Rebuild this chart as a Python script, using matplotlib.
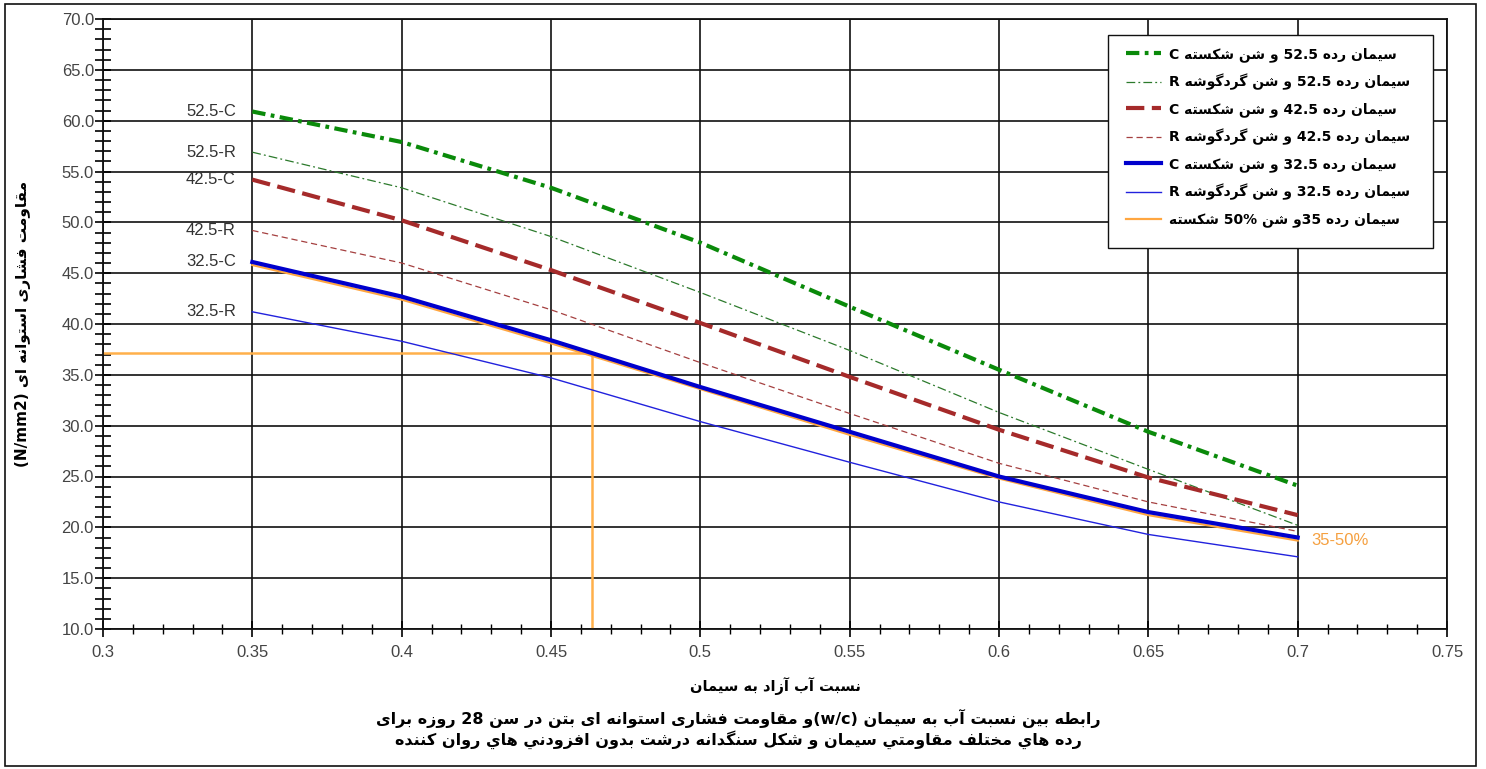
import re
import matplotlib
matplotlib.use("Agg")
import matplotlib.pyplot as plt
from matplotlib.ticker import MultipleLocator, FormatStrFormatter, FuncFormatter
from matplotlib.patches import Rectangle

# ---- data ----
wc = [0.35, 0.40, 0.45, 0.50, 0.55, 0.60, 0.65, 0.70]
s525_c = [60.9, 57.9, 53.4, 48.0, 41.7, 35.5, 29.4, 24.1]
s525_r = [56.9, 53.4, 48.6, 43.1, 37.4, 31.3, 25.7, 20.2]
s425_c = [54.2, 50.2, 45.3, 40.1, 34.8, 29.6, 24.9, 21.2]
s425_r = [49.2, 46.0, 41.4, 36.2, 31.2, 26.3, 22.5, 19.6]
s325_c = [46.1, 42.7, 38.4, 33.8, 29.4, 25.0, 21.5, 19.0]
s325_r = [41.2, 38.3, 34.7, 30.4, 26.4, 22.5, 19.3, 17.1]
s35_50 = [45.8, 42.4, 38.1, 33.6, 29.1, 24.8, 21.2, 18.7]

curve_tags = ["52.5-C", "52.5-R", "42.5-C", "42.5-R", "32.5-C", "32.5-R"]
legend_txt = [
    "سیمان رده 52.5 و شن شکسته C",
    "سیمان رده 52.5 و شن گردگوشه R",
    "سیمان رده 42.5 و شن شکسته C",
    "سیمان رده 42.5 و شن گردگوشه R",
    "سیمان رده 32.5 و شن شکسته C",
    "سیمان رده 32.5 و شن گردگوشه R",
    "سیمان رده 35و شن 50% شکسته",
]
mix_tag = "35-50%"
pick_wc, pick_fc = 0.4638, 37.1

xlabel = "نسبت آب آزاد به سیمان"
ylabel = "مقاومت فشاری استوانه ای (N/mm2)"
caption = [
    "رابطه بین نسبت آب به سیمان (w/c)و مقاومت فشاری استوانه ای بتن در سن 28 روزه برای",
    "رده هاي مختلف مقاومتي سیمان و شکل سنگدانه درشت بدون افزودني هاي روان کننده",
]

# ---- tiny arabic-script shaper (matplotlib has no bidi / shaping) ----
FORMS = {  # isolated, final, initial, medial
    "\u0627": ("\uFE8D", "\uFE8E"),
    "\u0622": ("\uFE81", "\uFE82"),
    "\u0628": ("\uFE8F", "\uFE90", "\uFE91", "\uFE92"),
    "\u062A": ("\uFE95", "\uFE96", "\uFE97", "\uFE98"),
    "\u062E": ("\uFEA5", "\uFEA6", "\uFEA7", "\uFEA8"),
    "\u062F": ("\uFEA9", "\uFEAA"),
    "\u0631": ("\uFEAD", "\uFEAE"),
    "\u0632": ("\uFEAF", "\uFEB0"),
    "\u0633": ("\uFEB1", "\uFEB2", "\uFEB3", "\uFEB4"),
    "\u0634": ("\uFEB5", "\uFEB6", "\uFEB7", "\uFEB8"),
    "\u0637": ("\uFEC1", "\uFEC2", "\uFEC3", "\uFEC4"),
    "\u0641": ("\uFED1", "\uFED2", "\uFED3", "\uFED4"),
    "\u0642": ("\uFED5", "\uFED6", "\uFED7", "\uFED8"),
    "\u06A9": ("\uFB8E", "\uFB8F", "\uFB90", "\uFB91"),
    "\u06AF": ("\uFB92", "\uFB93", "\uFB94", "\uFB95"),
    "\u0644": ("\uFEDD", "\uFEDE", "\uFEDF", "\uFEE0"),
    "\u0645": ("\uFEE1", "\uFEE2", "\uFEE3", "\uFEE4"),
    "\u0646": ("\uFEE5", "\uFEE6", "\uFEE7", "\uFEE8"),
    "\u0647": ("\uFEE9", "\uFEEA", "\uFEEB", "\uFEEC"),
    "\u0648": ("\uFEED", "\uFEEE"),
    "\u06CC": ("\uFBFC", "\uFBFD", "\uFBFE", "\uFBFF"),
    "\u064A": ("\uFEF1", "\uFEF2", "\uFEF3", "\uFEF4"),
}
MIRROR = {"(": ")", ")": "("}


def shape_word(w):
    out = []
    for i, ch in enumerate(w):
        f = FORMS.get(ch)
        if f is None:
            out.append(ch)
            continue
        prev = w[i - 1] if i > 0 else None
        nxt = w[i + 1] if i + 1 < len(w) else None
        jp = prev in FORMS and len(FORMS[prev]) == 4
        jn = len(f) == 4 and nxt in FORMS
        out.append(f[3] if jp and jn else f[1] if jp else f[2] if jn else f[0])
    return "".join(out)[::-1]


def fa(s):
    toks = re.findall(r"[\u0600-\u06FF]+|[A-Za-z0-9./%]+|.", s)
    out = []
    for t in reversed(toks):
        if re.match(r"[\u0600-\u06FF]", t):
            out.append(shape_word(t))
        else:
            out.append(MIRROR.get(t, t))
    return "".join(out)


plt.rcParams["font.family"] = ["Liberation Sans", "DejaVu Sans"]
FA = dict(family="DejaVu Sans", fontweight="bold", color="black")
W, H = 1486, 769

fig = plt.figure(figsize=(W / 100, H / 100), dpi=100)
ax = fig.add_axes([103 / W, 1 - 629 / H, (1447 - 103) / W, (629 - 19) / H])

styles = [
    dict(color="#0a8a0a", lw=3.0, ls=(0, (3.2, 1.3, 0.9, 1.3))),
    dict(color="#2c7a2c", lw=0.9, ls=(0, (7, 2.5, 1.5, 2.5))),
    dict(color="#a52a2a", lw=3.0, ls=(0, (4.4, 1.8))),
    dict(color="#a54040", lw=0.9, ls=(0, (5, 3))),
    dict(color="#0000cc", lw=3.0, ls="-"),
    dict(color="#2222dd", lw=1.0, ls="-"),
    dict(color="#ffa640", lw=1.6, ls="-"),
]
series = [s525_c, s525_r, s425_c, s425_r, s325_c, s325_r, s35_50]
draw_order = [6, 5, 3, 1, 4, 2, 0]
handles = [None] * 7
for i in draw_order:
    st = styles[i]
    (h,) = ax.plot(wc, series[i], color=st["color"], lw=st["lw"], ls=st["ls"],
                   zorder=3 + (i == 4))
    handles[i] = h

# reading lines for the 35 / 50% case
ax.plot([0.3, pick_wc], [pick_fc, pick_fc], color="#ffb04a", lw=1.8, zorder=2.5)
ax.plot([pick_wc, pick_wc], [pick_fc, 10], color="#ffb04a", lw=1.8, zorder=2.5)

for tag, ys in zip(curve_tags, series[:6]):
    ax.text(0.3445, ys[0], tag, ha="right", va="center", fontsize=12, color="#333333")
ax.text(0.7045, s35_50[-1], mix_tag, ha="left", va="center", fontsize=12, color="#f5a040")

ax.set_xlim(0.3, 0.75)
ax.set_ylim(10, 70)
ax.xaxis.set_major_locator(MultipleLocator(0.05))
ax.xaxis.set_minor_locator(MultipleLocator(0.01))
ax.yaxis.set_major_locator(MultipleLocator(5))
ax.yaxis.set_minor_locator(MultipleLocator(1))
ax.xaxis.set_major_formatter(FuncFormatter(lambda v, p: f"{v:.2f}".rstrip("0")))
ax.yaxis.set_major_formatter(FormatStrFormatter("%.1f"))
ax.tick_params(axis="y", which="both", direction="inout", length=11, width=1.2,
               labelsize=12, labelcolor="#444444", pad=1)
ax.tick_params(axis="x", which="major", direction="inout", length=11, width=1.2,
               labelsize=12, labelcolor="#444444", pad=6)
ax.tick_params(axis="x", which="minor", direction="inout", length=7, width=1.0)
ax.grid(True, which="major", color="#111111", lw=1.2)
for sp in ax.spines.values():
    sp.set_color("#111111")
    sp.set_linewidth(1.3)

ax.set_xlabel(fa(xlabel), fontsize=10.5, labelpad=12, **FA)
ax.set_ylabel(fa(ylabel), fontsize=11, labelpad=22, **FA)

leg = ax.legend(handles, [fa(t) for t in legend_txt], loc="upper left",
                bbox_to_anchor=(1126 / W, 1 - 47 / H), bbox_transform=fig.transFigure,
                prop=dict(family="DejaVu Sans", weight="bold", size=10),
                frameon=False, handlelength=2.5, handletextpad=0.6,
                labelspacing=0.86, borderpad=0, borderaxespad=0)
leg.set_zorder(10)
ax.add_patch(Rectangle((1108 / W, 1 - 248 / H), (1433 - 1108) / W, (248 - 35) / H,
                       transform=fig.transFigure, fc="white", ec="#111111", lw=1.0,
                       zorder=9))

fig.text(0.497, 0.052, fa(caption[0]) + "\n" + fa(caption[1]), ha="center", va="center",
         fontsize=11.5, linespacing=1.1, multialignment="center", **FA)

fig.patches.append(Rectangle((5 / W, 3 / H), 1471 / W, 762 / H,
                             transform=fig.transFigure, fill=False, ec="#111111", lw=1.2))

fig.savefig("out.png", dpi=100)
